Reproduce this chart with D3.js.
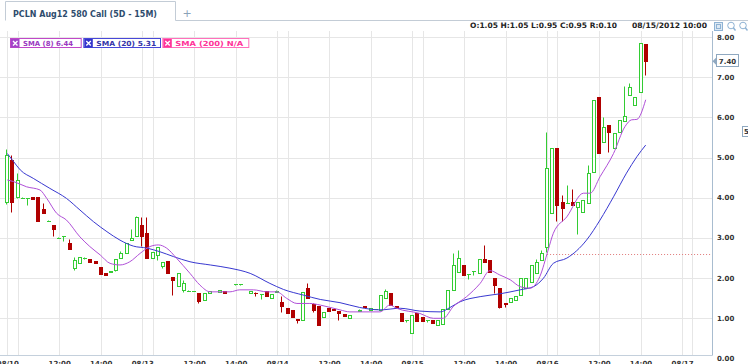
<!DOCTYPE html>
<html><head><meta charset="utf-8">
<script src="https://cdn.jsdelivr.net/npm/d3@7"></script>
<style>
html,body{margin:0;padding:0;background:#fff;overflow:hidden}
svg{display:block}
text{font-family:"DejaVu Sans",Verdana,sans-serif}
</style></head><body>
<svg id="c" width="748" height="364"></svg>
<script>
// ---------- DATA ----------
const title = "PCLN Aug12 580 Call (5D - 15M)";
const headerOHLC = "O:1.05 H:1.05 L:0.95 C:0.95 R:0.10";
const headerDate = "08/15/2012 10:00";
const legendLabels = ["SMA (8) 6.44", "SMA (20) 5.31", "SMA (200) N/A"];
const yTicks = [0,1,2,3,4,5,6,7,8];
const xTickIdx = [0,10,18,26,36,44,52,62,70,78,88,96,104,114,122,130];
const xTickLabels = ["08/10","12:00","14:00","08/13","12:00","14:00","08/14","12:00","14:00","08/15","12:00","14:00","08/16","12:00","14:00","08/17"];
const gridIdx = [0,2,10,18,26,28,36,44,52,54,62,70,78,80,88,96,104,106,114,122,130,132];

const barIndex = [0,1,2,3,4,5,6,7,8,9,10,11,12,13,14,15,16,17,18,19,20,21,22,23,24,25,26,27,28,29,30,31,32,33,34,35,36,37,38,39,41,42,44,45,47,48,49,50,51,52,53,54,55,56,57,58,59,60,61,62,63,64,65,66,68,69,70,71,72,73,74,75,76,77,78,79,80,81,82,83,84,85,86,87,88,89,90,91,92,93,94,95,96,97,98,99,100,101,102,103,104,105,106,107,108,109,110,111,112,113,114,115,116,117,118,119,120,121,122,123];
const open  = [3.90,4.94,4.02,4.00,3.98,4.01,4.01,3.71,3.42,3.32,3.00,3.03,2.87,2.24,2.36,2.50,2.46,2.41,2.26,2.13,2.14,2.19,2.49,2.61,2.94,3.03,3.32,3.11,2.49,2.57,2.30,2.43,2.03,1.80,1.69,1.68,1.66,1.61,1.45,1.61,1.64,1.68,1.84,1.84,1.62,1.63,1.60,1.67,1.49,1.64,1.40,1.24,1.20,0.98,0.96,1.74,1.34,1.30,1.03,1.24,1.23,1.16,1.10,0.99,1.18,1.30,1.20,1.21,1.20,1.49,1.63,1.30,1.13,0.95,0.62,1.11,1.02,0.95,0.95,0.82,0.85,1.21,1.70,2.15,2.32,2.10,2.18,2.11,2.46,2.44,1.99,1.74,1.36,1.40,1.45,1.57,1.74,1.90,2.11,2.44,2.78,3.61,5.23,3.90,3.86,3.90,3.77,3.65,3.86,4.65,6.52,5.39,5.81,5.23,5.64,5.92,6.56,6.31,6.64,7.83];
const high  = [5.20,5.06,4.61,4.02,3.98,4.02,4.01,3.86,3.43,3.32,3.01,3.05,2.97,2.53,2.51,2.52,2.46,2.41,2.26,2.13,2.17,2.47,2.68,2.86,3.21,3.55,3.51,3.51,2.65,2.76,2.40,2.43,2.03,2.11,1.95,1.69,1.68,1.61,1.61,1.68,1.70,1.68,1.85,1.85,1.66,1.64,1.60,1.67,1.60,1.70,1.55,1.24,1.20,0.98,1.65,1.86,1.38,1.30,1.15,1.24,1.23,1.16,1.10,1.07,1.22,1.30,1.25,1.23,1.57,1.72,1.63,1.30,1.13,0.95,1.07,1.11,1.02,0.95,0.95,0.95,1.21,1.70,2.62,2.69,2.32,2.10,2.18,2.46,2.82,2.44,1.99,1.74,1.36,1.49,1.55,2.00,1.99,2.32,2.47,2.69,5.64,5.23,5.23,4.07,4.31,4.22,3.90,3.94,4.81,6.43,6.52,6.02,5.81,5.60,5.94,6.78,6.85,6.52,7.85,7.83];
const low   = [3.85,3.65,4.00,3.98,3.82,3.97,3.42,3.62,3.41,3.03,2.99,2.92,2.71,2.19,2.36,2.48,2.39,2.36,2.09,2.06,2.14,2.17,2.49,2.61,2.94,3.03,2.79,2.49,2.49,2.44,2.24,2.13,1.57,1.80,1.64,1.67,1.66,1.38,1.45,1.61,1.64,1.62,1.83,1.83,1.62,1.55,1.46,1.55,1.49,1.64,1.15,1.11,1.01,0.87,0.96,1.49,1.15,0.82,1.03,1.18,1.19,0.95,1.05,0.99,1.18,1.26,1.20,1.21,1.20,1.49,1.32,1.24,0.93,0.90,0.62,0.93,0.93,0.90,0.88,0.82,0.85,1.21,1.70,2.15,2.07,1.98,2.08,2.11,2.40,2.15,1.61,1.25,1.28,1.40,1.45,1.57,1.74,1.90,2.11,2.44,2.65,3.61,3.42,3.42,3.86,3.82,3.10,3.65,3.86,4.65,5.10,5.39,5.14,5.23,5.64,5.92,6.56,6.31,6.64,7.05];
const close = [5.05,3.90,4.44,4.00,3.98,3.97,3.42,3.62,3.42,3.21,3.00,3.03,2.71,2.44,2.51,2.50,2.39,2.36,2.09,2.06,2.17,2.46,2.63,2.86,3.00,3.51,3.03,2.49,2.65,2.76,2.40,2.13,1.94,2.11,1.86,1.68,1.68,1.43,1.61,1.68,1.70,1.62,1.84,1.84,1.66,1.62,1.60,1.55,1.60,1.68,1.30,1.11,1.01,0.96,1.65,1.49,1.20,0.82,1.15,1.18,1.19,1.13,1.05,1.07,1.20,1.26,1.25,1.23,1.57,1.67,1.32,1.24,0.93,0.95,1.07,0.93,0.93,0.95,0.88,0.95,1.21,1.70,2.32,2.49,2.07,2.10,2.18,2.46,2.40,2.15,1.82,1.28,1.35,1.49,1.55,2.00,1.99,2.32,2.40,2.61,4.73,5.23,3.82,3.73,3.86,3.82,3.90,3.94,4.61,6.43,5.10,5.77,5.64,5.60,5.94,6.03,6.75,6.52,7.85,7.40];

const sma8Index  = [0,1.2,3.7,6.3,7.6,9.5,11.4,14.0,15.9,17.9,19.8,21.7,23.6,25.6,27.5,29.1,30.7,32.6,35.2,37.1,39.1,42.9,44.8,47.4,50.0,51.9,53.8,55.8,58.3,60.3,64.1,66.0,71.8,73.7,75.0,79.5,82.1,84.0,85.9,88.5,91.1,93.0,94.9,96.9,98.8,100.7,102.6,104.2,105.2,107.8,111.0,112.3,114.2,116.8,119.0,120.3,121.3,123];
const sma8Values = [4.44,4.40,4.27,4.19,3.98,3.61,3.44,3.02,2.78,2.57,2.36,2.32,2.40,2.61,2.78,2.82,2.74,2.49,2.11,1.82,1.65,1.65,1.70,1.70,1.65,1.65,1.49,1.36,1.36,1.32,1.20,1.15,1.15,1.32,1.24,1.11,0.99,0.99,1.28,1.53,1.86,2.18,2.07,1.95,1.78,1.74,2.03,2.69,3.11,3.52,4.11,4.11,4.52,5.10,5.77,5.94,5.95,6.44];
const sma20Index  = [0,1.2,2.5,5.0,8.2,11.4,14.0,16.6,19.2,21.7,24.3,26.9,29.4,32.0,35.2,39.1,42.9,46.8,50.6,53.2,57.0,60.3,64.1,67.9,71.8,75.7,79.5,83.4,85.3,87.2,91.1,94.9,98.8,101.4,103.3,105.2,107.8,111.6,114.2,116.8,119.3,121.3,123];
const sma20Values = [5.10,4.90,4.69,4.48,4.23,3.98,3.69,3.40,3.15,2.94,2.79,2.74,2.65,2.53,2.40,2.32,2.24,2.11,1.86,1.71,1.57,1.46,1.38,1.26,1.20,1.24,1.17,1.15,1.26,1.40,1.53,1.60,1.70,1.78,1.99,2.36,2.49,2.94,3.44,4.02,4.61,5.02,5.31];

const refLevel = 2.59, refFromIndex = 104;
const lastPrice = "7.40";

// ---------- SETUP ----------
const svg = d3.select("#c");
const plotL = 0, plotR = 712, plotT = 31, plotB = 355;
const x = d3.scaleLinear().domain([0,123]).range([7.3,645.7]);
const y = d3.scaleLinear().domain([0,8]).range([358,37.2]);
const px = v => Math.round(v) + 0.5;

const GREEN = "#33cc33", RED = "#b00000";
const C8 = "#b050d8", C20 = "#3838d0", C200 = "#ff3399";

// background
svg.append("rect").attr("width",748).attr("height",364).attr("fill","#fff");

// tab
svg.append("path")
  .attr("d","M5.5,20.5 V1.5 H175.5 V20.5 H748")
  .attr("fill","none").attr("stroke","#c3ccd6");
svg.append("text").attr("x",13).attr("y",16.5).text(title)
  .attr("font-size",8.5).attr("font-weight","bold").attr("fill","#2e4c6d")
  .attr("textLength",144).attr("lengthAdjust","spacingAndGlyphs");
svg.append("text").attr("x",187).attr("y",17).text("+")
  .attr("font-size",11).attr("fill","#8aa2b8").attr("text-anchor","middle");

// header
svg.append("text").attr("x",470).attr("y",28).text(headerOHLC)
  .attr("font-size",7.5).attr("font-weight","bold").attr("fill","#222")
  .attr("textLength",147).attr("lengthAdjust","spacingAndGlyphs");
svg.append("text").attr("x",632).attr("y",28).text(headerDate)
  .attr("font-size",7.5).attr("font-weight","bold").attr("fill","#222")
  .attr("textLength",75).attr("lengthAdjust","spacingAndGlyphs");

// toolbar icons
const ic = svg.append("g").attr("stroke","#8fb3d4").attr("fill","none");
ic.append("rect").attr("x",714.5).attr("y",22.5).attr("width",8).attr("height",8).attr("fill","#dde9f4");
ic.append("rect").attr("x",716.5).attr("y",24.5).attr("width",4).attr("height",4);
[731,743].forEach(cx=>{
  ic.append("circle").attr("cx",cx).attr("cy",25.5).attr("r",3.3);
  ic.append("line").attr("x1",cx+2.3).attr("y1",27.8).attr("x2",cx+4.5).attr("y2",30.5).attr("stroke-width",1.5);
});

// gridlines
const grid = svg.append("g");
grid.selectAll(".vg").data(gridIdx).join("line").attr("class","vg")
  .attr("x1",d=>px(x(d))).attr("x2",d=>px(x(d)))
  .attr("y1",plotT).attr("y2",plotB).attr("stroke","#e6e6e6");
grid.selectAll(".hg").data(yTicks.filter(d=>d>0)).join("line").attr("class","hg")
  .attr("x1",plotL).attr("x2",plotR)
  .attr("y1",d=>px(y(d))).attr("y2",d=>px(y(d))).attr("stroke","#e6e6e6");

// reference dotted line
svg.append("line").attr("x1",x(refFromIndex)).attr("x2",plotR)
  .attr("y1",px(y(refLevel))).attr("y2",px(y(refLevel)))
  .attr("stroke","#e07a7a").attr("stroke-dasharray","1,2");

// legend
const legendColors = [["#c048c8","#a444c8","#9a38c0"],["#4848d8","#3333cc","#3434a8"],["#ff70bb","#ff3399","#ff3399"]];
const legendBoxes = [[10,70.7,50],[83.3,76.7,60],[162.3,86,68]];
legendBoxes.forEach((b,k)=>{
  const g = svg.append("g");
  g.append("rect").attr("x",b[0]+0.5).attr("y",38.5).attr("width",b[1]).attr("height",9)
    .attr("fill","#fff").attr("stroke",legendColors[k][0]);
  g.append("rect").attr("x",b[0]+1).attr("y",39).attr("width",8.5).attr("height",8.5).attr("fill",legendColors[k][1]);
  g.append("path").attr("d",`M${b[0]+3},41 l4.5,4.5 M${b[0]+7.5},41 l-4.5,4.5`)
    .attr("stroke","#fff").attr("stroke-width",1.4);
  g.append("text").attr("x",b[0]+13).attr("y",46).text(legendLabels[k])
    .attr("font-size",7).attr("font-weight","bold").attr("fill",legendColors[k][2])
    .attr("textLength",b[2]).attr("lengthAdjust","spacingAndGlyphs");
});

// candles
const bars = barIndex.map((d,k)=>({i:d,o:open[k],h:high[k],l:low[k],c:close[k]}));
const cg = svg.append("g");
bars.forEach(b=>{
  const cx = Math.round(x(b.i));
  const up = b.c >= b.o;
  const col = up ? GREEN : RED;
  const yt = Math.round(y(Math.max(b.o,b.c))) + 0.5;
  const yb = Math.round(y(Math.min(b.o,b.c))) + 0.5;
  const yh = Math.round(y(b.h)) + 0.5, yl = Math.round(y(b.l)) + 0.5;
  if (yh < yt) cg.append("line").attr("x1",cx-0.5).attr("x2",cx-0.5).attr("y1",yh).attr("y2",yt).attr("stroke",col);
  if (yl > yb) cg.append("line").attr("x1",cx-0.5).attr("x2",cx-0.5).attr("y1",yb).attr("y2",yl).attr("stroke",col);
  if (yb - yt < 1) {
    cg.append("line").attr("x1",cx-2).attr("x2",cx+2).attr("y1",yt).attr("y2",yt).attr("stroke",col);
  } else {
    cg.append("rect").attr("x",cx-1.5).attr("y",yt).attr("width",3).attr("height",yb-yt)
      .attr("fill",up ? "#fff" : RED).attr("stroke",col);
  }
});

// SMA lines
const line = d3.line().x(d=>x(d[0])).y(d=>y(d[1])).curve(d3.curveMonotoneX);
svg.append("path").datum(sma20Index.map((d,k)=>[d,sma20Values[k]]))
  .attr("d",line).attr("fill","none").attr("stroke",C20).attr("stroke-width",1);
svg.append("path").datum(sma8Index.map((d,k)=>[d,sma8Values[k]]))
  .attr("d",line).attr("fill","none").attr("stroke",C8).attr("stroke-width",1);

// borders
svg.append("line").attr("x1",plotR+0.5).attr("x2",plotR+0.5).attr("y1",plotT).attr("y2",plotB+0.5).attr("stroke","#a8bccf");
svg.append("line").attr("x1",plotL).attr("x2",plotR+0.5).attr("y1",plotB+0.5).attr("y2",plotB+0.5).attr("stroke","#c4d0dc");

// axes
const yAxis = d3.axisRight(y).tickValues(yTicks).tickFormat(d3.format(".2f")).tickSize(0).tickPadding(5);
const ya = svg.append("g").attr("transform",`translate(${plotR},0)`).call(yAxis);
ya.select(".domain").remove();
ya.selectAll("text").attr("font-family","DejaVu Sans").attr("font-size",7).attr("font-weight","bold").attr("fill","#333");

const xAxis = d3.axisBottom(x).tickValues(xTickIdx).tickFormat((d,k)=>xTickLabels[k]).tickSize(0).tickPadding(6);
const xa = svg.append("g").attr("transform",`translate(0,${plotB})`).call(xAxis);
xa.select(".domain").remove();
xa.selectAll("text").attr("font-family","DejaVu Sans").attr("font-size",7).attr("font-weight","bold").attr("fill","#333");

// last price tag
const ty = y(+lastPrice);
svg.append("path").attr("d",`M${plotR+0.5},${ty} L716.5,${ty-4} L716.5,${ty+4} Z`).attr("fill","#8fa8c0");
svg.append("rect").attr("x",716.5).attr("y",Math.round(ty)-6.5).attr("width",22).attr("height",12)
  .attr("fill","#fff").attr("stroke","#8fa8c0");
svg.append("text").attr("x",727.5).attr("y",Math.round(ty)+2.5).text(lastPrice)
  .attr("text-anchor","middle").attr("font-size",7).attr("font-weight","bold").attr("fill","#333");

// partially visible tag at right edge
svg.append("rect").attr("x",742.5).attr("y",126.5).attr("width",20).attr("height",10)
  .attr("fill","#fff").attr("stroke","#8fa8c0");
svg.append("text").attr("x",744).attr("y",134).text("5.31")
  .attr("font-size",7).attr("font-weight","bold").attr("fill","#333");
</script></body></html>
